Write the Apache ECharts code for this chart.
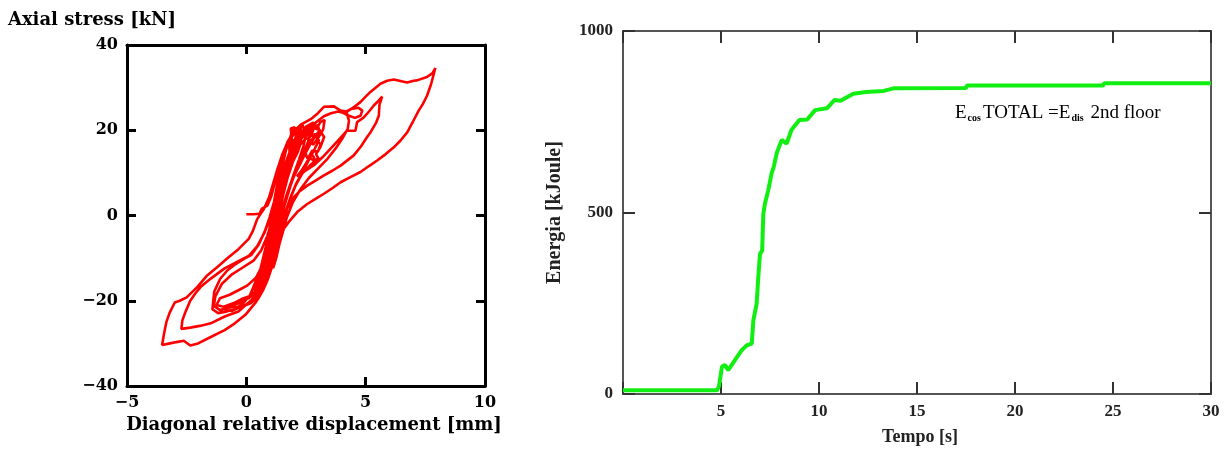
<!DOCTYPE html>
<html>
<head>
<meta charset="utf-8">
<script src="https://cdn.jsdelivr.net/npm/echarts@6/dist/echarts.min.js"></script>
<style>
html, body { margin: 0; padding: 0; background: #fff; }
#main { width: 1227px; height: 457px; }
</style>
</head>
<body>
<div id="main"></div>
<script>
// left plot: hysteresis, [displacement mm, force kN], in loading order
var startCycles = [
	[0.00,0.3],[0.30,0.3],[0.55,0.4],[0.65,1.6],[0.88,2.3],[1.05,4.6],[1.20,7.8],[1.34,10.6],[1.45,12.8],[1.52,14.2],
	[1.44,11.5],[1.30,7.4],[1.17,3.1],[1.04,-1.2],[0.90,-5.6],[0.74,-9.8],[0.60,-12.9],[0.52,-14.6],
	[0.63,-12.4],[0.80,-8.7],[0.96,-4.5],[1.10,-0.4],[1.24,3.8],[1.38,8.1],[1.52,12.0],[1.66,15.3],[1.80,17.6],
	[1.92,19.8],[2.05,20.6],[2.12,18.4],[2.00,15.9],[1.82,12.1],[1.62,7.9],[1.43,3.3],[1.26,-1.1],[1.08,-5.7],
	[0.88,-10.1],[0.66,-14.2],[0.44,-17.4],[0.30,-18.9],
	[0.40,-16.6],[0.58,-13.5],[0.78,-9.7],[0.97,-5.8],[1.13,-1.6],[1.29,2.4],[1.48,6.7],[1.69,10.8],[1.93,14.6],
	[2.18,17.7],[2.42,19.7],[2.60,21.0],[2.72,19.6],[2.58,17.2],[2.34,13.9],[2.08,10.6],[1.84,6.8],[1.60,2.4],
	[1.40,-2.1],[1.21,-6.6],[1.01,-10.9],[0.80,-14.6],[0.58,-17.4],[0.38,-19.6],[0.18,-20.6]
];
var cycleSmallNeg = [
	[-0.10,-21.2],[-0.48,-21.9],[-0.86,-22.6],[-1.18,-22.9],[-1.42,-22.0],[-1.38,-19.6],[-1.34,-17.8],[-1.10,-14.9],
	[-0.80,-12.9],[-0.50,-11.6],[-0.10,-10.2],[0.20,-9.3],[0.52,-6.8],[0.78,-3.6],[0.98,-0.4],[1.16,3.2],[1.34,7.0],
	[1.55,10.9],[1.78,14.4],[2.02,17.2],[2.30,19.4]
];
var topCluster = [
	[2.52,20.9],[2.80,21.8],[2.98,20.7],[3.10,21.9],[3.28,22.4],[3.22,20.2],[3.02,18.3],[2.88,19.2],[2.70,17.0],
	[2.48,14.6],[2.56,13.4],[2.78,14.1],[2.90,12.9],[2.64,11.6],[2.34,9.8],[2.06,7.0],[1.80,3.4],[1.58,-0.6],
	[1.38,-4.8],[1.18,-9.2],[0.98,-12.8],[0.74,-16.2],[0.52,-18.5],[0.34,-19.9],
	[0.44,-17.5],[0.62,-14.3],[0.82,-10.6],[1.00,-6.6],[1.16,-2.5],[1.32,1.6],[1.50,5.8],[1.70,9.9],[1.90,13.3],
	[1.88,16.0],[1.90,18.4],[1.86,20.4],[2.02,20.7],[2.08,18.1],[2.20,19.6],[2.36,21.2],[2.50,19.0],[2.40,16.4],
	[2.20,13.0],[1.98,9.6],[1.74,5.4],[1.52,1.0],[1.32,-3.5],[1.13,-7.9],[0.92,-12.0],[0.70,-15.5],[0.46,-18.3],
	[0.22,-19.9]
];
var bandCycles = [
	[0.30,-19.0],[0.50,-16.2],[0.72,-12.4],[0.92,-8.1],[1.08,-3.9],[1.22,0.3],[1.36,4.6],[1.52,8.8],[1.70,12.6],
	[1.92,16.1],[2.14,18.6],[2.30,17.4],[2.16,15.0],[1.95,12.6],[1.74,9.1],[1.55,5.0],[1.38,0.6],[1.22,-3.8],
	[1.05,-8.0],[0.86,-11.9],[0.66,-15.0],[0.48,-17.3],[0.55,-18.8],[0.38,-19.8],
	[0.52,-17.8],[0.70,-14.4],[0.88,-10.4],[1.04,-6.2],[1.18,-2.0],[1.33,2.2],[1.48,6.4],[1.64,10.3],[1.82,13.7],
	[1.80,16.2],[2.02,17.0],[2.10,19.4],[2.28,20.2],[2.26,18.0],[2.06,16.4],[1.88,13.4],[1.66,9.4],[1.46,4.8],
	[1.28,0.0],[1.12,-4.6],[0.96,-8.6],[0.78,-12.2],[0.60,-15.4],[0.40,-17.8],[0.22,-18.4],[0.08,-19.6],
	[0.28,-17.0],[0.52,-13.6],[0.80,-9.6],[1.02,-5.4],[1.22,-1.0],[1.40,3.4],[1.58,7.6],[1.76,11.0],[2.00,14.2],
	[2.26,16.6],[2.52,18.2],[2.74,17.2],[2.90,18.8],[3.04,17.6],[2.86,15.6],[2.60,12.8],[2.36,10.2],[2.10,7.6],
	[1.86,4.4],[1.62,0.6],[1.42,-3.4],[1.24,-7.6],[1.06,-11.4],[0.86,-14.6],[0.66,-17.0],[0.46,-18.9],
	[0.36,-17.4],[0.50,-14.6],[0.66,-11.0],[0.82,-7.2],[0.96,-3.4],[1.06,0.0],[1.18,3.8],[1.30,7.6],[1.44,11.2],
	[1.60,14.4],[1.76,16.8],[1.84,18.2],[1.98,17.6],[2.00,16.8],[2.10,18.2],[2.30,18.4],[2.44,20.6],[2.60,20.4],
	[2.56,18.8],[2.72,18.6],[2.84,20.8],[3.00,21.2],[3.06,19.6],[2.92,17.4],[3.12,16.8],[3.00,15.0],[2.76,15.2],
	[2.60,13.6],[2.44,14.2],[2.30,12.6],[2.10,10.4],[1.86,7.6],[1.66,4.4],[1.46,0.6],[1.30,-3.2],[1.14,-7.0],
	[0.98,-10.6],[0.80,-13.8],[0.62,-16.4],[0.44,-18.6],[0.28,-20.0]
];
var bottomCluster = [
	[0.02,-20.8],[-0.30,-21.6],[-0.62,-22.4],[-0.90,-22.0],[-0.70,-21.2],[-0.40,-21.6],[-0.10,-20.4],[0.10,-19.0],
	[-0.20,-19.6],[-0.55,-20.6],[-0.95,-21.4],[-1.25,-21.0],[-1.10,-19.4],[-0.70,-18.6],[-0.35,-17.6],[0.05,-16.4],
	[0.40,-14.6],[0.72,-11.2],[0.95,-7.4],[1.12,-3.5],[1.28,0.6],[1.44,4.8],[1.62,8.9],[1.84,12.8],[2.10,16.2],
	[2.40,18.9],[2.66,20.6]
];
var cyclePos2 = [
	[2.95,22.0],[3.25,23.3],[3.55,24.0],[3.85,24.4],[4.05,24.1],[4.30,23.4],[4.55,22.9],[4.78,23.4],[4.86,24.6],
	[4.70,25.3],[4.40,25.0],[4.20,24.3],[4.30,22.2],[4.25,20.4],[4.05,18.3],[3.75,15.8],[3.40,13.3],[3.00,11.0],
	[2.62,8.8],[2.26,6.1],[1.94,3.0],[1.70,-0.4],[1.48,-4.4],[1.28,-8.6],[1.08,-12.0],[0.86,-15.0],[0.62,-17.5],
	[0.36,-19.2]
];
var cycleNeg3 = [
	[0.06,-20.6],[-0.33,-22.5],[-0.91,-23.7],[-1.49,-25.3],[-1.95,-25.9],[-2.35,-26.3],[-2.72,-26.6],[-2.68,-24.6],
	[-2.57,-22.9],[-2.35,-20.0],[-2.14,-18.3],[-1.92,-16.8],[-1.49,-14.8],[-0.91,-12.4],[-0.33,-10.7],[0.10,-9.5],
	[0.46,-7.2],[0.76,-4.0],[0.98,-0.8],[1.18,2.8],[1.38,6.6],[1.58,10.4],[1.82,13.9],[2.10,17.0],[2.44,19.4],
	[2.80,20.6],[3.10,20.0],[2.86,18.6],[2.60,16.8],[2.34,14.0],[2.12,11.2],[1.90,8.0],[1.66,4.2],[1.46,0.0],
	[1.26,-4.4],[1.06,-8.8],[0.84,-12.6],[0.60,-15.8],[0.34,-18.2],[0.10,-19.4],
	[-0.25,-20.3],[-0.70,-21.6],[-1.10,-22.2],[-1.36,-21.2],[-1.30,-19.0],[-1.02,-16.0],[-0.60,-13.8],[-0.15,-12.2],
	[0.30,-10.6],[0.62,-8.2],[0.88,-4.8],[1.06,-1.4],[1.24,2.2],[1.42,6.0],[1.62,9.6],[1.70,12.0],[1.86,15.2],
	[1.86,17.8],[1.98,19.2],[1.96,20.6],[2.18,20.4],[2.22,17.6],[2.40,18.6],[2.52,20.4],[2.70,20.2],[2.62,18.0],
	[2.80,16.6],[2.96,17.8],[3.14,19.4],[3.26,18.4],[3.10,16.0],[2.92,14.4],[3.02,13.4],[2.84,12.8],[2.64,13.6],
	[2.50,12.2],[2.30,10.4],[2.12,9.2]
];
var cyclePos4 = [
	[2.40,10.2],[2.83,11.8],[3.18,13.6],[3.50,15.5],[3.86,17.7],[4.22,19.9],[4.57,19.9],[4.64,21.9],[4.92,23.0],
	[5.14,24.4],[5.34,25.8],[5.52,26.8],[5.69,27.9],[5.58,26.0],[5.55,23.4],[5.44,21.8],[5.20,19.5],[5.06,18.4],
	[4.80,16.2],[4.50,14.1],[3.95,11.7],[3.60,10.5],[3.25,9.4],[2.90,8.2],[2.55,7.0],[2.24,5.7],[1.99,4.3],
	[1.84,2.9],[1.71,1.6],[1.55,-1.6],[1.40,-5.0],[1.25,-8.6],[1.08,-12.0],[0.90,-15.0],[0.70,-17.5],[0.50,-19.5],
	[0.39,-20.4]
];
var cycleNeg5 = [
	[-0.04,-23.3],[-0.48,-25.3],[-0.91,-26.9],[-1.49,-28.5],[-2.06,-30.1],[-2.35,-30.5],[-2.62,-29.4],[-2.93,-29.7],
	[-3.20,-30.0],[-3.53,-30.4],[-3.45,-27.8],[-3.35,-25.0],[-3.22,-22.9],[-3.00,-20.4],[-2.79,-20.0],[-2.50,-19.2],
	[-2.06,-16.8],[-1.63,-14.0],[-1.20,-12.0],[-0.77,-9.9],[-0.33,-7.9],[0.10,-5.5],[0.26,-3.8],[0.46,-0.8],
	[0.74,1.6],[0.95,4.2],[1.12,7.4],[1.30,10.8],[1.50,14.2],[1.74,17.4],[2.00,19.8],[2.30,21.4],[2.70,22.6]
];
var cyclePos6 = [
	[3.00,24.0],[3.25,25.5],[3.67,25.6],[3.95,24.6],[4.20,24.4],[4.43,25.1],[4.78,26.6],[5.00,27.9],[5.20,29.0],
	[5.62,30.9],[5.90,31.6],[6.18,31.9],[6.59,31.4],[6.74,31.2],[7.01,31.6],[7.15,31.7],[7.57,32.5],[7.80,33.4],
	[7.92,34.6],[7.74,30.8],[7.57,28.1],[7.40,26.2],[7.22,24.6],[6.98,22.0],[6.74,19.5],[6.46,17.6],[6.18,16.0],
	[5.84,14.4],[5.48,12.9],[5.14,11.6],[4.78,10.2],[4.36,9.0],[3.95,7.8],[3.60,6.4],[3.25,5.1],[2.90,3.9],
	[2.55,2.7],[2.13,0.8],[1.78,-1.5],[1.57,-3.1],[1.40,-6.4],[1.26,-9.8],[1.12,-12.4]
];

// right plot: cumulative energy
var energyTime = [0, 4.8, 4.9, 5.05, 5.2, 5.37, 5.71, 6.05, 6.31, 6.57, 6.65, 6.82, 6.9, 6.99, 7.1, 7.16, 7.24,
	7.41, 7.58, 7.7, 7.85, 8.1, 8.35, 8.6, 9.0, 9.4, 9.8, 10.4, 10.8, 11.1, 11.75, 12.4, 13.3, 13.8, 17.5, 17.55,
	24.5, 24.55, 30];
var energyValue = [10, 10, 22, 75, 80, 66, 93, 120, 134, 139, 203, 249, 320, 386, 395, 496, 524,
	561, 607, 628, 665, 700, 690, 728, 755, 756, 782, 787, 810, 808, 827, 832, 835, 842, 843, 850,
	850, 856, 856];

var xTicksLeft = [-5, 0, 5, 10];
var yTicksLeft = [-40, -20, 0, 20, 40];
var xTicksRight = [0, 5, 10, 15, 20, 25, 30];
var yTicksRight = [0, 500, 1000];

var hysteresis = [].concat(startCycles, cycleSmallNeg, topCluster, bandCycles, bottomCluster, cyclePos2,
	cycleNeg3, cyclePos4, cycleNeg5, cyclePos6);

var energyData = [];
for (var i = 0; i < energyTime.length; i++) {
	energyData.push([energyTime[i], energyValue[i]]);
}

var leftFont = 'DejaVu Serif';
var rightFont = 'Liberation Serif';

function minusSign(v) {
	return String(v).replace('-', '\u2212');
}

function leftAxis(extra) {
	var base = {
		gridIndex: 0,
		type: 'value',
		axisLine: { show: true, onZero: false, lineStyle: { color: '#000', width: 3 } },
		axisTick: { show: true, inside: true, length: 9, lineStyle: { color: '#000', width: 3 } },
		splitLine: { show: false },
		axisLabel: { formatter: minusSign, margin: 9, fontFamily: leftFont, fontWeight: 'bold', fontSize: 16, color: '#000' }
	};
	return Object.assign(base, extra);
}

function rightAxis(extra) {
	var base = {
		gridIndex: 1,
		type: 'value',
		axisLine: { show: true, onZero: false, lineStyle: { color: '#555', width: 2 } },
		axisTick: { show: true, inside: true, length: 12, lineStyle: { color: '#333', width: 2 } },
		splitLine: { show: false },
		axisLabel: { show: false }
	};
	return Object.assign(base, extra);
}

var chart = echarts.init(document.getElementById('main'));

var option = {
	animation: false,
	backgroundColor: '#fff',
	grid: [
		{ left: 127, top: 45, width: 358, height: 341 },
		{ left: 623, top: 31, width: 588, height: 363 }
	],
	xAxis: [
		leftAxis({
			position: 'bottom', min: xTicksLeft[0], max: xTicksLeft[xTicksLeft.length - 1], interval: 5,
			name: 'Diagonal relative displacement [mm]', nameLocation: 'middle', nameGap: 26,
			nameTextStyle: { fontFamily: leftFont, fontWeight: 'bold', fontSize: 18, color: '#000', padding: [0, 0, 0, 16] }
		}),
		leftAxis({
			position: 'top', min: xTicksLeft[0], max: xTicksLeft[xTicksLeft.length - 1], interval: 5,
			axisLabel: { show: false }
		}),
		rightAxis({
			position: 'bottom', min: xTicksRight[0], max: xTicksRight[xTicksRight.length - 1], interval: 5,
			axisLabel: {
				show: true, margin: 9, fontFamily: rightFont, fontWeight: 'bold', fontSize: 17, color: '#222',
				formatter: function(v) { return v === 0 ? '' : String(v); }
			},
			name: 'Tempo [s]', nameLocation: 'middle', nameGap: 34,
			nameTextStyle: { fontFamily: rightFont, fontWeight: 'bold', fontSize: 18, color: '#222', padding: [0, 0, 0, 6] }
		}),
		rightAxis({
			position: 'top', min: xTicksRight[0], max: xTicksRight[xTicksRight.length - 1], interval: 5
		})
	],
	yAxis: [
		leftAxis({
			position: 'left', min: yTicksLeft[0], max: yTicksLeft[yTicksLeft.length - 1], interval: 20,
			name: 'Axial stress [kN]', nameLocation: 'end', nameGap: 16,
			nameTextStyle: { fontFamily: leftFont, fontWeight: 'bold', fontSize: 18, color: '#000', padding: [0, 70, 0, 0] }
		}),
		leftAxis({
			position: 'right', min: yTicksLeft[0], max: yTicksLeft[yTicksLeft.length - 1], interval: 20,
			axisLabel: { show: false }
		}),
		rightAxis({
			position: 'left', min: yTicksRight[0], max: yTicksRight[yTicksRight.length - 1], interval: 500,
			axisLabel: {
				show: true, margin: 10, fontFamily: rightFont, fontWeight: 'bold', fontSize: 17, color: '#222',
				formatter: function(v) { return String(v); }
			},
			name: 'Energia [kJoule]', nameLocation: 'middle', nameGap: 58,
			nameTextStyle: { fontFamily: rightFont, fontWeight: 'bold', fontSize: 20, color: '#222' }
		}),
		rightAxis({
			position: 'right', min: yTicksRight[0], max: yTicksRight[yTicksRight.length - 1], interval: 500
		})
	],
	graphic: [{
		type: 'text',
		left: 955,
		top: 104,
		style: {
			text: '{n|E}{s|cos}{n|TOTAL =}{n|E}{s|dis}{n| 2nd floor}',
			rich: {
				n: { fontFamily: rightFont, fontSize: 19, fill: '#000', verticalAlign: 'bottom' },
				s: { fontFamily: rightFont, fontSize: 10, fontWeight: 'bold', fill: '#000', verticalAlign: 'bottom', padding: [0, 2, 0, 1] }
			}
		}
	}],
	series: [
		{
			type: 'line',
			xAxisIndex: 0,
			yAxisIndex: 0,
			data: hysteresis,
			showSymbol: false,
			lineStyle: { color: '#ff0000', width: 2.6 }
		},
		{
			type: 'line',
			xAxisIndex: 2,
			yAxisIndex: 2,
			data: energyData,
			showSymbol: false,
			lineStyle: { color: '#11ee11', width: 4 }
		}
	]
};

chart.setOption(option);
</script>
</body>
</html>
